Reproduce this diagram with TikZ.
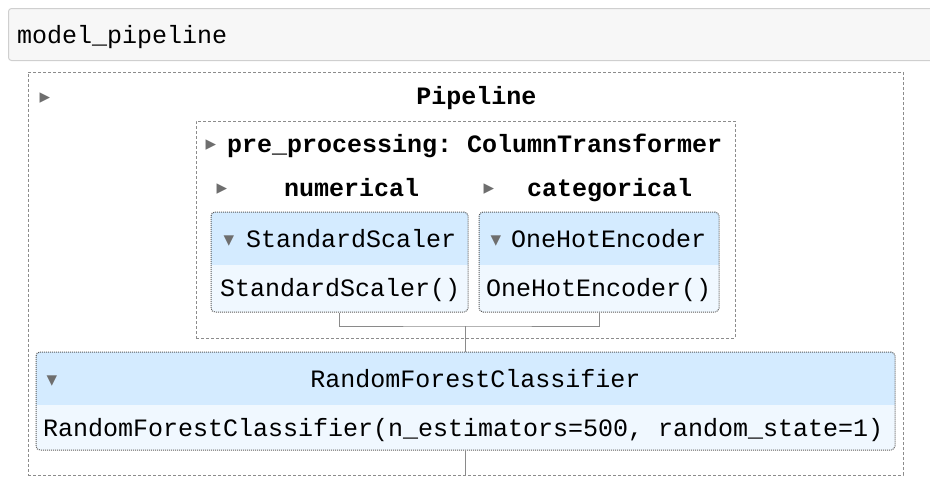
\documentclass[tikz,border=0pt]{standalone}
\usepackage{fontspec}
\setmonofont{Liberation Mono}
\newfontfamily\symfont{DejaVu Sans}
\usetikzlibrary{calc}
\definecolor{cellgray}{HTML}{F7F7F7}
\definecolor{cellline}{HTML}{CFCFCF}
\definecolor{dashgray}{HTML}{8C8C8C}
\definecolor{dotgray}{HTML}{5A5A5A}
\definecolor{linkgray}{HTML}{8A8A8A}
\definecolor{headblue}{HTML}{D4EBFF}
\definecolor{bodyblue}{HTML}{F0F8FF}
\definecolor{tipgray}{HTML}{6E6E6E}

\begin{document}
\begin{tikzpicture}[x=1pt,y=-1pt,
    lbl/.style={font=\ttfamily\fontsize{25}{30}\selectfont,inner sep=0pt,anchor=base west},
    blbl/.style={lbl,font=\ttfamily\bfseries\fontsize{25}{30}\selectfont},
    tip/.style={font=\symfont\fontsize{21}{24}\selectfont,text=tipgray,inner sep=0pt},
    dashbox/.style={draw=dashgray,line width=1pt,dash pattern=on 3pt off 2pt,inner sep=0pt},
    estline/.style={draw=dotgray,line width=1pt,dash pattern=on 1pt off 1pt,rounded corners=4pt,inner sep=0pt},
    link/.style={draw=linkgray,line width=1pt}]
  \useasboundingbox (0,0) rectangle (930,498);
  % code cell
  \filldraw[fill=cellgray,draw=cellline,line width=1pt,rounded corners=3pt]
    (930,8.5)--(8.5,8.5)--(8.5,60.5)--(930,60.5);
  \node[lbl] (cell) at (17,43) {model\_pipeline};

  % outer pipeline
  \node[dashbox,minimum width=875pt,minimum height=403pt] (pipe) at (465.5,273.5) {};
  \node[tip] (pipetip) at (45,98) {▸};
  \node[blbl,anchor=base] (pipename) at (476.5,104) {Pipeline};

  % column transformer
  \node[dashbox,minimum width=539pt,minimum height=217pt] (ct) at (465.5,229.5) {};
  \node[tip] (cttip) at (211,145) {▸};
  \node[blbl] (ctname) at (227,152) {pre\_processing: ColumnTransformer};
  \node[tip] (numtip) at (222,189) {▸};
  \node[blbl] (numname) at (284,196) {numerical};
  \node[tip] (cattip) at (489,189) {▸};
  \node[blbl] (catname) at (527,196) {categorical};

  % StandardScaler
  \begin{scope}
    \clip[rounded corners=4pt] (211,212) rectangle (468,312);
    \fill[bodyblue] (211,212) rectangle (468,312);
    \fill[headblue] (211,212) rectangle (468,265);
  \end{scope}
  \node[estline,minimum width=257pt,minimum height=100pt] (ss) at (339.5,262) {};
  \node[tip] (sstip) at (229,241) {▾};
  \node[lbl] (sshead) at (246,247) {StandardScaler};
  \node[lbl] (ssbody) at (220,296) {StandardScaler()};

  % OneHotEncoder
  \begin{scope}
    \clip[rounded corners=4pt] (479,212) rectangle (719,312);
    \fill[bodyblue] (479,212) rectangle (719,312);
    \fill[headblue] (479,212) rectangle (719,265);
  \end{scope}
  \node[estline,minimum width=240pt,minimum height=100pt] (ohe) at (599,262) {};
  \node[tip] (ohetip) at (496,241) {▾};
  \node[lbl] (ohehead) at (511,247) {OneHotEncoder};
  \node[lbl] (ohebody) at (486,296) {OneHotEncoder()};

  % RandomForestClassifier
  \begin{scope}
    \clip[rounded corners=4pt] (36,352) rectangle (895,450);
    \fill[bodyblue] (36,352) rectangle (895,450);
    \fill[headblue] (36,352) rectangle (895,405);
  \end{scope}
  \node[estline,minimum width=859pt,minimum height=98pt] (rf) at (465.5,401) {};
  \node[tip] (rftip) at (52,381) {▾};
  \node[lbl,anchor=base] (rfhead) at (475.5,387) {RandomForestClassifier};
  \node[lbl] (rfbody) at (43,436) {RandomForestClassifier(n\_estimators=500, random\_state=1)};

  % connectors
  \coordinate (join) at (465.5,326);
  \draw[link] (ss.south) |- (join) -| (ohe.south);
  \draw[link] (join) -- (rf.north);
  \draw[link] (rf.south) -- (rf.south |- pipe.south);
\end{tikzpicture}
\end{document}
